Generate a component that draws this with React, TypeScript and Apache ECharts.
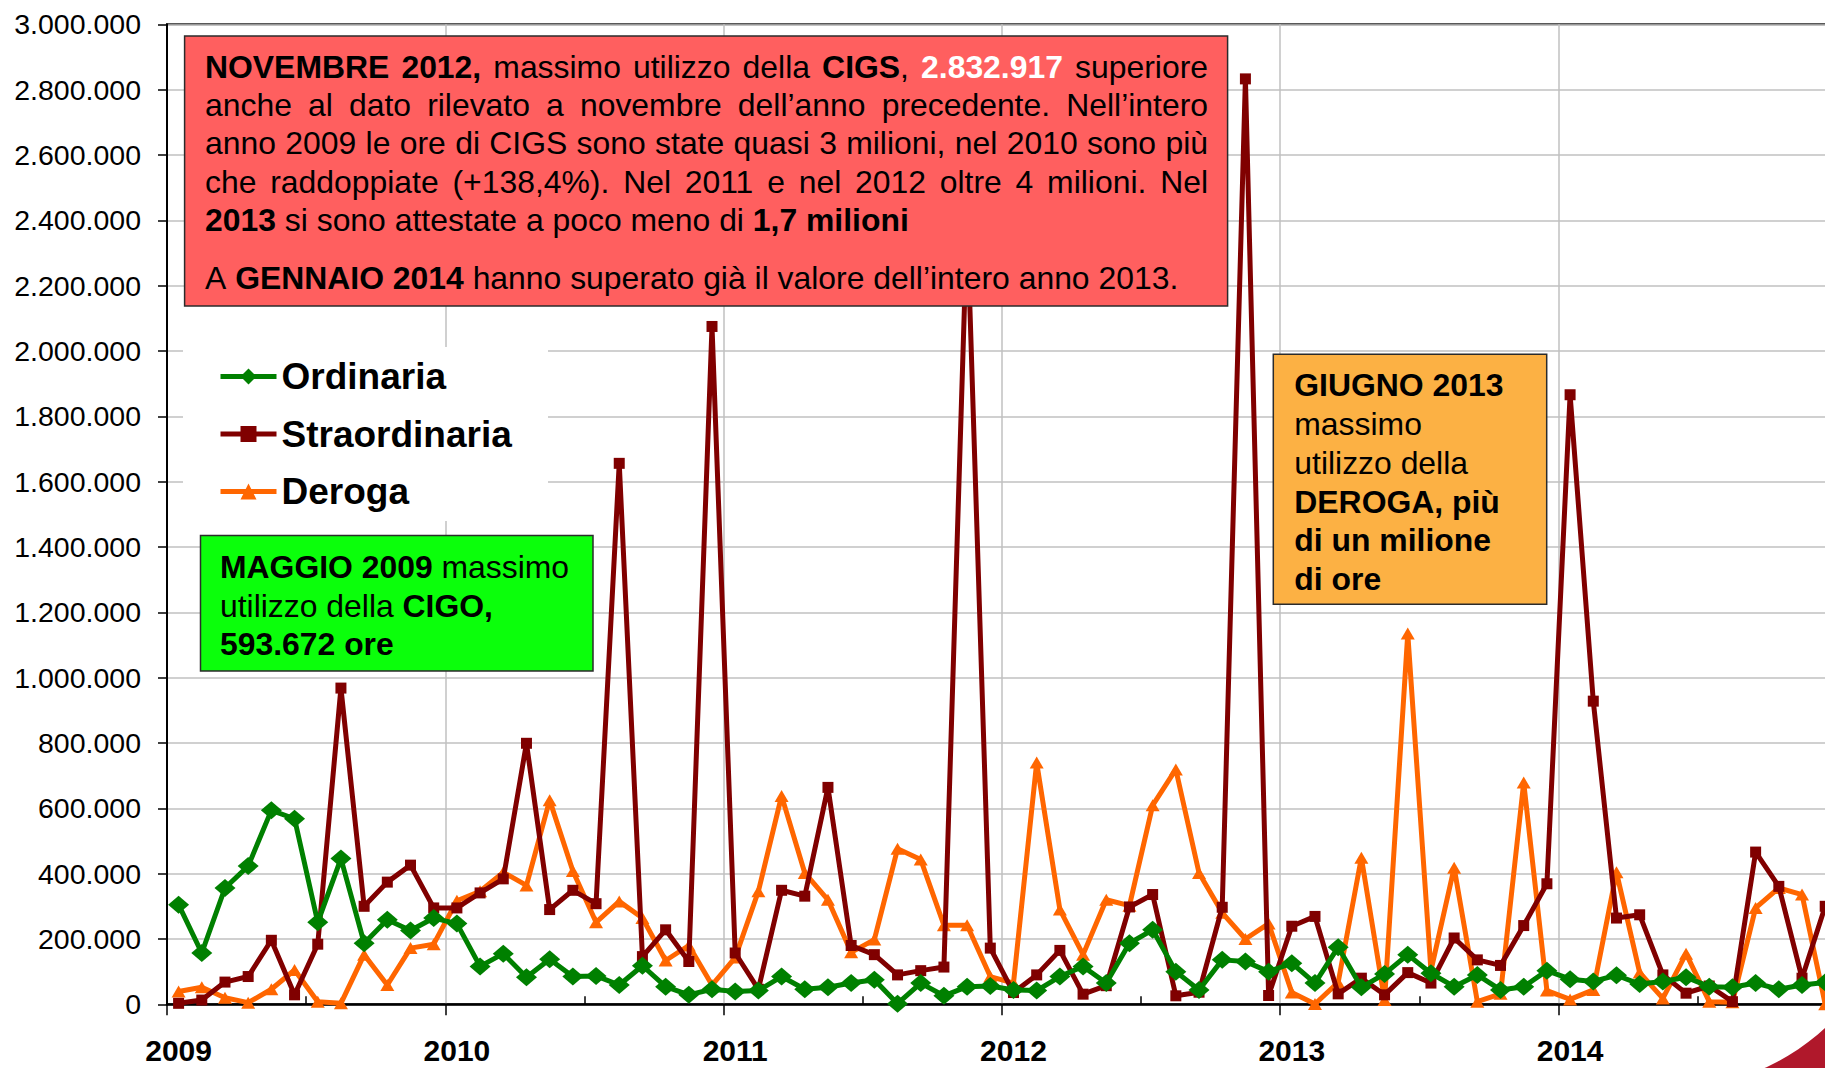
import React, { useEffect, useRef } from 'react';
import * as echarts from 'echarts';

// ---------- data ----------
const years = ['2009', '2010', '2011', '2012', '2013', '2014'];
const monthNames = ['gen', 'feb', 'mar', 'apr', 'mag', 'giu', 'lug', 'ago', 'set', 'ott', 'nov', 'dic'];
const categories = years.flatMap((y) => monthNames.map((m) => `${m} ${y}`));

const seriesNames = ['Ordinaria', 'Straordinaria', 'Deroga'];

const ordinaria = [
  305000, 157000, 356000, 423000, 593672, 568000, 251000, 446000, 187000, 259000, 226000, 264000,
  247000, 116000, 155000, 83000, 138000, 85000, 87000, 59000, 118000, 54000, 29000, 46000,
  39000, 42000, 85000, 46000, 52000, 65000, 75000, 2000, 65000, 26000, 54000, 56000,
  44000, 42000, 85000, 116000, 65000, 187000, 228000, 100000, 44000, 136000, 131000, 100000,
  126000, 65000, 175000, 52000, 93000, 152000, 95000, 54000, 90000, 44000, 54000, 103000,
  77000, 70000, 89000, 62000, 70000, 83000, 54000, 52000, 65000, 46000, 59000, 67000,
];

const straordinaria = [
  3000, 13000, 68000, 85000, 196000, 29000, 184000, 968000, 300000, 374000, 426000, 295000,
  295000, 341000, 384000, 799000, 290000, 349000, 308000, 1656000, 146000, 228000, 131000, 2075000,
  157000, 46000, 349000, 331000, 664000, 180000, 152000, 90000, 103000, 114000, 2400000, 172000,
  36000, 90000, 165000, 31000, 57000, 298000, 336000, 26000, 37000, 297000, 2832917, 27000,
  239000, 269000, 32000, 80000, 29000, 97000, 65000, 203000, 136000, 119000, 241000, 369000,
  1866000, 928000, 264000, 274000, 90000, 34000, 56000, 8000, 466000, 361000, 80000, 300000,
];

const deroga = [
  39000, 52000, 20000, 5000, 46000, 105000, 8000, 3000, 152000, 59000, 172000, 184000,
  317000, 346000, 404000, 364000, 625000, 408000, 251000, 315000, 264000, 134000, 180000, 59000,
  143000, 346000, 638000, 402000, 320000, 159000, 198000, 476000, 443000, 242000, 242000, 85000,
  65000, 740000, 290000, 152000, 320000, 302000, 609000, 719000, 402000, 280000, 200000, 247000,
  36000, 1000, 67000, 449000, 13000, 1135000, 103000, 418000, 8000, 32000, 679000, 42000,
  15000, 44000, 404000, 97000, 18000, 155000, 8000, 6000, 295000, 356000, 336000, 0,
];

const yMin = 0;
const yMax = 3000000;
const yStep = 200000;

// ---------- annotation texts ----------
type Run = [string, string]; // [style, text]
const redLines: Run[][] = [
  [['b', 'NOVEMBRE 2012,'], ['n', ' massimo utilizzo della '], ['b', 'CIGS'], ['n', ', '], ['w', '2.832.917'], ['n', ' superiore']],
  [['n', 'anche al dato rilevato a novembre dell’anno precedente. Nell’intero']],
  [['n', 'anno 2009 le ore di CIGS sono state quasi 3 milioni, nel 2010 sono più']],
  [['n', 'che raddoppiate (+138,4%). Nel 2011 e nel 2012 oltre 4 milioni. Nel']],
  [['b', '2013'], ['n', ' si sono attestate a poco meno di '], ['b', '1,7 milioni']],
  [['n', 'A '], ['b', 'GENNAIO 2014'], ['n', ' hanno superato già il valore dell’intero anno 2013.']],
];
const redJustified = [true, true, true, true, false, false];

const greenLines: Run[][] = [
  [['b', 'MAGGIO 2009'], ['n', ' massimo']],
  [['n', 'utilizzo della '], ['b', 'CIGO,']],
  [['b', '593.672 ore']],
];

const orangeLines: Run[][] = [
  [['b', 'GIUGNO 2013']],
  [['n', 'massimo']],
  [['n', 'utilizzo della']],
  [['b', 'DEROGA, più']],
  [['b', 'di un milione']],
  [['b', 'di ore']],
];

// ---------- styling ----------
const FONT = 'Liberation Sans, Arial, Helvetica, sans-serif';
const BOX_FS = 31.9;
const COLORS = ['#008000', '#800000', '#FF6600'];

const measureCtx = typeof document !== 'undefined' ? document.createElement('canvas').getContext('2d') : null;
function measure(text: string, bold: boolean) {
  if (!measureCtx) return text.length * BOX_FS * 0.5;
  measureCtx.font = `${bold ? 'bold ' : ''}${BOX_FS}px ${FONT}`;
  return measureCtx.measureText(text).width;
}

const richBase: any = {
  n: { fontSize: BOX_FS, fontFamily: FONT, fill: '#000000', color: '#000000' },
  b: { fontSize: BOX_FS, fontFamily: FONT, fill: '#000000', color: '#000000', fontWeight: 'bold' },
  w: { fontSize: BOX_FS, fontFamily: FONT, fill: '#ffffff', color: '#ffffff', fontWeight: 'bold' },
};

let gapCounter = 0;
function lineElement(runs: Run[], x: number, y: number, justifyWidth?: number) {
  const rich: any = { ...richBase };
  let text = '';
  if (justifyWidth) {
    const words: { s: string; t: string }[][] = [[]];
    for (const [s, t] of runs) {
      t.split(' ').forEach((p, i) => {
        if (i > 0) words.push([]);
        if (p) words[words.length - 1].push({ s, t: p });
      });
    }
    const ws = words.filter((w) => w.length);
    const total = ws.reduce((a, w) => a + w.reduce((b, seg) => b + measure(seg.t, seg.s !== 'n'), 0), 0);
    const gap = Math.max(4, (justifyWidth - total) / (ws.length - 1));
    const gk = 'g' + gapCounter++;
    rich[gk] = { width: gap, fontSize: BOX_FS, fontFamily: FONT };
    text = ws.map((w) => w.map((seg) => `{${seg.s}|${seg.t}}`).join('')).join(`{${gk}| }`);
  } else {
    text = runs.map(([s, t]) => `{${s}|${t}}`).join('');
  }
  return {
    type: 'text',
    x,
    y,
    z: 21,
    style: { text, rich, textAlign: 'left', verticalAlign: 'middle', fontSize: BOX_FS, fontFamily: FONT, fill: '#000' },
  };
}

function box(x: number, y: number, w: number, h: number, fill: string) {
  return {
    type: 'rect',
    z: 20,
    shape: { x, y, width: w, height: h },
    style: { fill, stroke: '#2b2b2b', lineWidth: 1.5 },
  };
}

function swooshPoints() {
  const cx = 1668, cy = 856, r = 233;
  const pts: number[][] = [];
  for (let a = 74; a >= 38; a -= 3) {
    const rad = (a * Math.PI) / 180;
    pts.push([cx + r * Math.cos(rad), cy + r * Math.sin(rad)]);
  }
  pts.push([1870, 1090]);
  pts.push([1700, 1090]);
  return pts;
}

function thousands(v: number) {
  return String(v).replace(/\B(?=(\d{3})+(?!\d))/g, '.');
}

export default function App() {
  const ref = useRef<HTMLDivElement>(null);

  useEffect(() => {
    if (!ref.current) return;
    const chart = echarts.init(ref.current, undefined, { renderer: 'svg' });
    gapCounter = 0;

    const redLineY = [66.7, 105, 143.3, 181.7, 220, 278.3];
    const greenLineY = [567, 605.5, 643.5];
    const orangeLineY = [385, 424, 463, 501.5, 540, 578.5];

    const graphics: any[] = [
      { type: 'rect', z: 1, shape: { x: 183, y: 347, width: 365, height: 174 }, style: { fill: '#ffffff' } },
      { type: 'polygon', z: 1, shape: { points: swooshPoints() }, style: { fill: '#B0182B' } },
      box(184.6, 36, 1043, 270, '#FF5F5F'),
      ...redLines.map((l, i) => lineElement(l, 205, redLineY[i], redJustified[i] ? 1003 : undefined)),
      box(200.5, 535.5, 392.5, 135.5, '#0BFF0B'),
      ...greenLines.map((l, i) => lineElement(l, 220, greenLineY[i])),
      box(1273.3, 354.3, 273.4, 250, '#FCB144'),
      ...orangeLines.map((l, i) => lineElement(l, 1294.3, orangeLineY[i])),
    ];

    const symbolDefs = [
      { symbol: 'diamond', symbolSize: [21, 18], z: 5 },
      { symbol: 'rect', symbolSize: 11, z: 4 },
      { symbol: 'triangle', symbolSize: [14, 12], z: 3 },
    ];
    const dataSets = [ordinaria, straordinaria, deroga];

    chart.setOption({
      animation: false,
      backgroundColor: '#ffffff',
      textStyle: { fontFamily: FONT },
      grid: {
        left: 167,
        top: 24.3,
        width: 1669.8,
        height: 980,
        show: true,
        borderColor: '#222222',
        borderWidth: 2,
        backgroundColor: 'transparent',
      },
      legend: {
        orient: 'vertical',
        left: 218,
        top: 354.5,
        padding: 0,
        itemWidth: 56,
        itemHeight: 20,
        itemGap: 13.5,
        selectedMode: false,
        data: seriesNames,
        lineStyle: { width: 5 },
        textStyle: { fontSize: 37, fontWeight: 'bold', color: '#000', fontFamily: FONT, lineHeight: 44 },
      },
      xAxis: [
        {
          type: 'category',
          data: categories,
          boundaryGap: true,
          position: 'bottom',
          axisLine: { show: true, onZero: false, lineStyle: { color: '#000', width: 2.5 } },
          axisTick: { show: true, interval: 11, length: 11, lineStyle: { color: '#000', width: 1.5 } },
          splitLine: { show: true, interval: 11, lineStyle: { color: '#c0c0c0', width: 1.5 } },
          axisLabel: {
            interval: 11,
            margin: 31,
            fontSize: 30,
            lineHeight: 30,
            fontWeight: 'bold',
            color: '#000',
            fontFamily: FONT,
            formatter: (v: string) => v.split(' ')[1],
          },
        },
        {
          type: 'category',
          data: categories,
          boundaryGap: true,
          position: 'bottom',
          axisLine: { show: false },
          axisLabel: { show: false },
          splitLine: { show: false },
          axisTick: {
            show: true,
            inside: true,
            length: 8,
            interval: (i: number) => i % 12 === 6,
            lineStyle: { color: '#000', width: 1.5 },
          },
        },
      ],
      yAxis: {
        type: 'value',
        min: yMin,
        max: yMax,
        interval: yStep,
        axisLine: { show: true, lineStyle: { color: '#000', width: 2 } },
        axisTick: { show: true, length: 9, lineStyle: { color: '#000', width: 1.5 } },
        splitLine: { show: true, lineStyle: { color: '#c0c0c0', width: 1.5 } },
        axisLabel: {
          margin: 26,
          fontSize: 28.5,
          color: '#000',
          fontFamily: FONT,
          formatter: (v: number) => thousands(v),
        },
      },
      series: seriesNames.map((name, i) => ({
        name,
        type: 'line',
        data: dataSets[i],
        xAxisIndex: 0,
        showAllSymbol: true,
        symbol: symbolDefs[i].symbol,
        symbolSize: symbolDefs[i].symbolSize,
        z: symbolDefs[i].z,
        color: COLORS[i],
        itemStyle: { color: COLORS[i] },
        lineStyle: { color: COLORS[i], width: 5 },
      })),
      graphic: graphics,
    });

    return () => chart.dispose();
  }, []);

  return (
    <div style={{ position: 'fixed', left: 0, top: 0, width: 1825, height: 1068, overflow: 'hidden', background: '#fff' }}>
      <div ref={ref} style={{ width: 1860, height: 1068 }} />
    </div>
  );
}
